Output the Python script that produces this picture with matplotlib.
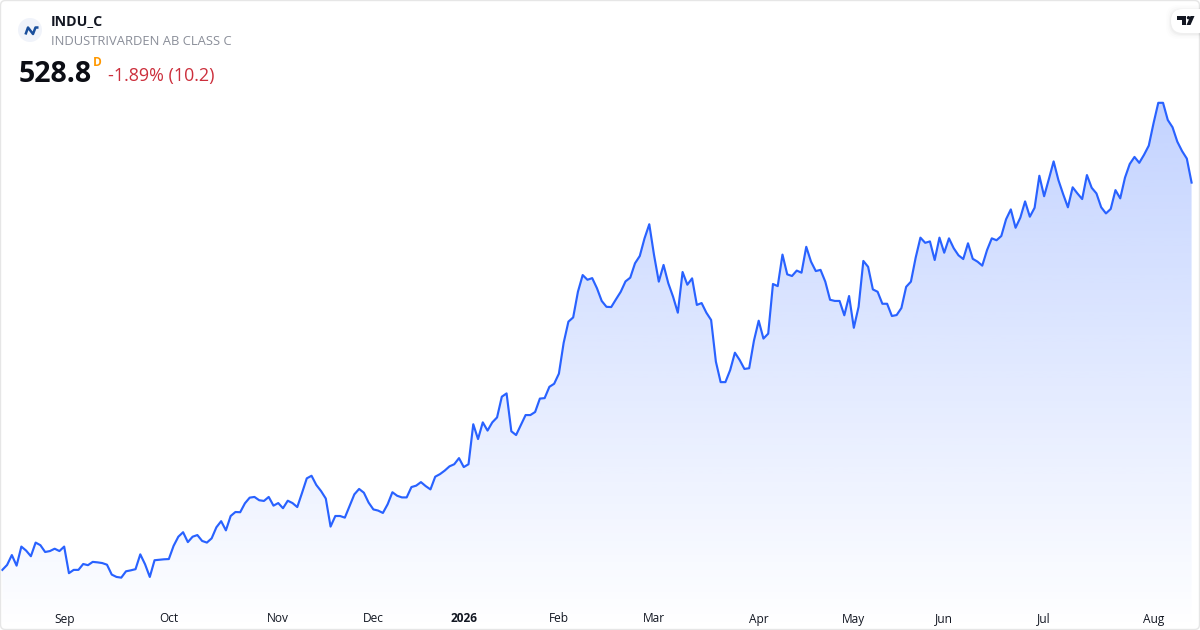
# %% IMPORTS
import matplotlib

matplotlib.use("Agg")
import matplotlib.pyplot as plt
from matplotlib.patches import Circle, FancyBboxPatch, Polygon
import numpy as np

# %% DATA
prices = [
    364.2, 366.3, 370.5, 366.0, 374.1, 372.4, 370.0, 375.8, 374.7, 371.8,
    372.2, 373.2, 372.2, 374.1, 362.8, 364.2, 364.2, 366.7, 366.2, 367.6,
    367.4, 367.1, 366.4, 362.2, 361.2, 360.9, 363.6, 364.0, 364.5, 370.8,
    366.6, 361.2, 368.3, 368.5, 368.7, 368.8, 374.4, 378.3, 380.2, 376.0,
    378.3, 379.0, 376.5, 375.8, 377.6, 382.3, 384.9, 381.0, 387.1, 388.8,
    388.7, 392.5, 394.9, 395.2, 393.8, 393.5, 395.2, 391.5, 392.6, 390.4,
    393.6, 392.6, 390.9, 396.9, 403.1, 404.2, 400.3, 397.7, 394.5, 382.6,
    387.1, 387.1, 386.4, 391.3, 396.3, 398.6, 397.0, 392.8, 389.9, 389.4,
    388.4, 392.1, 397.2, 395.7, 395.0, 395.0, 399.4, 400.0, 401.5, 399.8,
    398.4, 403.8, 404.9, 406.4, 408.2, 409.1, 411.7, 407.9, 409.1, 426.1,
    419.8, 426.9, 423.4, 426.9, 429.0, 437.8, 439.2, 423.1, 421.5, 425.8,
    430.0, 430.0, 431.3, 437.0, 437.2, 442.0, 443.3, 447.6, 460.7, 469.7,
    471.5, 482.4, 489.5, 487.5, 488.2, 483.9, 478.5, 476.0, 475.9, 479.2,
    482.4, 486.8, 488.4, 494.5, 497.6, 505.1, 511.1, 498.0, 486.7, 493.8,
    486.0, 480.3, 473.5, 490.8, 485.4, 488.1, 476.8, 477.6, 473.5, 470.4,
    452.7, 444.0, 444.0, 449.1, 456.5, 453.4, 449.6, 449.9, 461.6, 470.1,
    462.5, 464.6, 485.7, 484.8, 498.2, 489.8, 489.1, 491.4, 490.5, 501.5,
    495.2, 491.2, 491.7, 486.7, 479.0, 478.5, 478.5, 472.4, 480.6, 467.1,
    476.0, 495.5, 493.0, 483.4, 482.4, 477.3, 477.3, 472.1, 472.5, 475.5,
    484.5, 486.7, 496.9, 505.4, 503.2, 503.8, 495.9, 505.4, 499.0, 505.1,
    500.9, 497.9, 496.3, 503.0, 496.4, 495.2, 493.5, 500.1, 505.1, 504.3,
    506.1, 513.2, 517.4, 509.6, 513.9, 520.8, 514.3, 518.1, 531.7, 523.0,
    530.3, 537.8, 529.9, 523.9, 518.3, 526.8, 524.2, 521.8, 532.0, 526.6,
    524.2, 518.3, 515.7, 517.6, 525.6, 522.1, 530.9, 536.7, 539.7, 537.2,
    540.6, 544.5, 554.0, 562.7, 562.7, 555.4, 552.3, 546.2, 542.2, 539.0,
    528.8,
]
month_positions = [13, 35, 58, 78, 97, 117, 137, 159, 179, 198, 219, 242]
month_labels = ["Sep", "Oct", "Nov", "Dec", "2026", "Feb", "Mar", "Apr", "May", "Jun", "Jul", "Aug"]

# %% CONFIGS
plt.rcParams["font.family"] = ["Open Sans", "DejaVu Sans"]
line_color = "#2962ff"
text_color = "#131722"

days = np.arange(len(prices))

fig = plt.figure(figsize=(12, 6.3), dpi=100, facecolor="white")
ax = fig.add_axes([0, 0, 1, 1])

# Scales are set so the series sits where it does on the card
ax.set_xlim(-0.49, 251.77)
ax.set_ylim(338.65, 606.4)
ax.plot(days, prices, color=line_color, lw=1.55, solid_joinstyle="round", zorder=3)

# Area under the line, gradient clipped to the polygon
area = ax.fill_between(days, prices, 338.65, color="none", lw=0)
n_rows = 256
gradient = np.zeros((n_rows, 1, 4))
gradient[:, :, 0] = 41 / 255
gradient[:, :, 1] = 98 / 255
gradient[:, :, 2] = 1.0
gradient[:, 0, 3] = np.linspace(0.28, 0.0, n_rows)
img = ax.imshow(
    gradient,
    extent=(0, days[-1], 338.65, max(prices)),
    aspect="auto",
    origin="upper",
    zorder=2,
)
img.set_clip_path(area.get_paths()[0], transform=ax.transData)
ax.set_xlim(-0.49, 251.77)
ax.set_ylim(338.65, 606.4)

# Month labels sit inside the plot
ax.set_yticks([])
ax.set_xticks(month_positions, month_labels)
ax.tick_params(axis="x", length=0, pad=-12.6, labelsize=8.6, labelcolor=text_color)
for label in ax.get_xticklabels():
    if label.get_text() == "2026":
        label.set_fontweight("bold")
for spine in ax.spines.values():
    spine.set_visible(False)

# Header, logos and card frame in pixel coordinates
over = fig.add_axes([0, 0, 1, 1], facecolor="none")
over.set_xlim(0, 1200)
over.set_ylim(630, 0)
over.axis("off")

over.add_patch(
    FancyBboxPatch(
        (0.5, 0.5), 1199, 629, boxstyle="round,pad=0,rounding_size=5",
        fc="none", ec="#e6e6e6", lw=1.0, zorder=5,
    )
)

# Ticker logo
over.add_patch(Circle((30, 30), 12, fc="#f0f3fa", ec="none"))
over.plot(
    [25.5, 28, 33, 35.5, 38.5], [34.5, 27.5, 34, 27.5, 27.5],
    color="#1a4f9c", lw=1.8, solid_capstyle="butt",
)

over.text(51, 21, "INDU_C", fontsize=10.2, fontweight="bold", color=text_color, va="center")
over.text(51, 41.5, "INDUSTRIVARDEN AB CLASS C", fontsize=9.35, color="#8a8e99", va="center")
over.text(19, 74, "528.8", fontsize=20.5, fontweight="bold", color="#0c0e15", va="center")
over.text(93, 62, "D", fontsize=8.6, fontweight="bold", color="#ff9800", va="center")
over.text(108, 76, "-1.89% (10.2)", fontsize=12.9, color="#cc2f3c", va="center")

# TradingView badge, soft shadow below a white pill
for grow, alpha in [(5, 0.008), (3.5, 0.012), (2, 0.018), (1, 0.025)]:
    over.add_patch(
        FancyBboxPatch(
            (1171 - grow, 9 - grow + 1), 40 + grow, 24 + 2 * grow,
            boxstyle="round,pad=0,rounding_size=12",
            fc="black", ec="none", alpha=alpha, zorder=6, clip_on=True,
        )
    )
over.add_patch(
    FancyBboxPatch(
        (1171, 9), 40, 24, boxstyle="round,pad=0,rounding_size=12",
        fc="white", ec="none", zorder=7, clip_on=True,
    )
)
over.add_patch(Polygon(
    [(1177, 16), (1186, 16), (1186, 25), (1181.5, 25), (1181.5, 19.5), (1177, 19.5)],
    fc="#131722", ec="none", zorder=8,
))
over.add_patch(Circle((1188.5, 17.7), 1.7, fc="#131722", ec="none", zorder=8))
over.add_patch(Polygon(
    [(1190.5, 16), (1194.5, 16), (1190.5, 25), (1186.5, 25)],
    fc="#131722", ec="none", zorder=8,
))

fig.savefig("out.png", dpi=100, facecolor="white")
